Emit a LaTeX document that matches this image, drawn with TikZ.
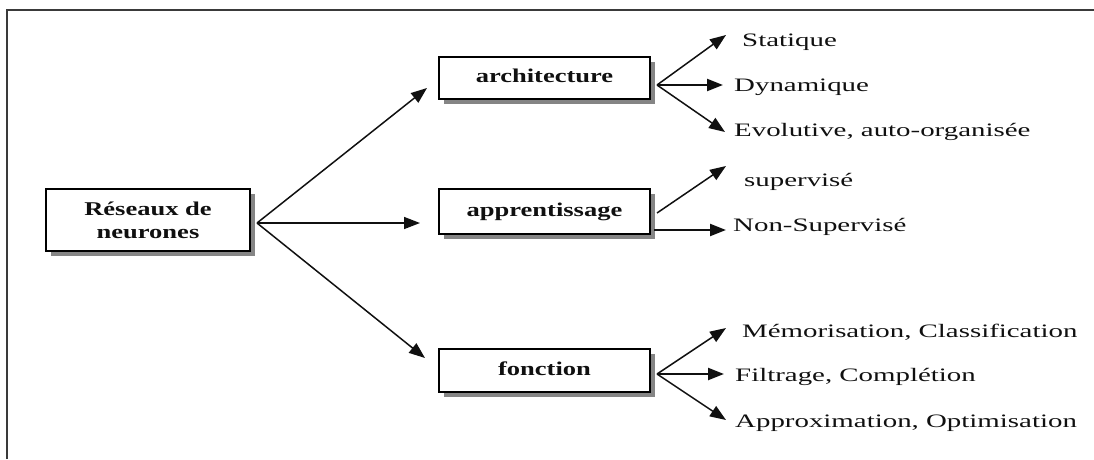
\documentclass[tikz,border=0pt]{standalone}
\usepackage{fontspec}
\setmainfont{Liberation Serif}
\newfontfamily\boxfont[FakeStretch=1.36]{Liberation Serif}
\newfontfamily\leaffont[FakeStretch=1.52]{Liberation Serif}
\usetikzlibrary{arrows.meta,shadows}
\definecolor{ink}{HTML}{101010}
\definecolor{shade}{HTML}{858585}
\definecolor{framec}{HTML}{3A3A3A}
\begin{document}
\begin{tikzpicture}[x=1pt,y=-1pt,
  box/.style={draw=black, line width=2.4pt, fill=white, minimum width=211pt,
    inner sep=0pt, text=ink, font=\boxfont\bfseries\fontsize{19.5}{23}\selectfont,
    drop shadow={shadow xshift=5pt, shadow yshift=-5pt, fill=shade, opacity=1}},
  leaf/.style={anchor=base west, inner sep=0pt, text=ink,
    font=\leaffont\fontsize{19}{22}\selectfont},
  conn/.style={draw=ink, line width=1.5pt, -{Triangle[length=16pt,width=12pt]}},
  thickconn/.style={conn, line width=2.3pt},
  frameline/.style={draw=framec, line width=2.2pt}
]
\useasboundingbox (0,0) rectangle (1094,459);
\draw[frameline] (7,459) -- (7,10) -- (1094,10);

% boxes
\node[box, minimum width=204pt, minimum height=62pt, align=center] (res) at (148,220) {Réseaux de\\neurones};
\node[box, minimum height=42pt, text height=13pt, text depth=4pt] (arch) at (544.5,78) {architecture};
\node[box, minimum height=45pt, text height=13pt, text depth=4pt] (app) at (544.5,211.5) {apprentissage};
\node[box, minimum height=43pt, text height=13pt, text depth=4pt] (fonc) at (544.5,370.5) {fonction};

% fan-out points and tips
\coordinate (r0) at (257,223);
\coordinate (tA) at (427,88);
\coordinate (tP) at (420,223);
\coordinate (tF) at (425,358);
\coordinate (a0) at (657,85);
\coordinate (p0) at (657,213);
\coordinate (p0b) at (654,230);
\coordinate (f0) at (657,374);

% leaves
\node[leaf] (stat) at (742,46) {Statique};
\node[leaf] (dyn) at (734,91.7) {Dynamique};
\node[leaf] (evo) at (734,136.7) {Evolutive, auto-organisée};
\node[leaf] (sup) at (744,186.7) {supervisé};
\node[leaf] (nsup) at (733,231.7) {Non-Supervisé};
\node[leaf] (mem) at (742,337) {Mémorisation, Classification};
\node[leaf] (fil) at (735,381.7) {Filtrage, Complétion};
\node[leaf] (appr) at (735,427) {Approximation, Optimisation};

\coordinate (a1) at (726,35);
\coordinate (a2) at (723,85);
\coordinate (a3) at (725,132);
\coordinate (p1) at (726,166);
\coordinate (p2) at (726,230);
\coordinate (f1) at (726,328);
\coordinate (f2) at (724,374);
\coordinate (f3) at (726,420);

% connectors
\draw[conn] (r0) -- (tA);
\draw[conn] (r0) -- (tP);
\draw[conn] (r0) -- (tF);
\draw[conn] (a0) -- (a1);
\draw[thickconn] (a0) -- (a2);
\draw[conn] (a0) -- (a3);
\draw[conn] (p0) -- (p1);
\draw[thickconn] (p0b) -- (p2);
\draw[conn] (f0) -- (f1);
\draw[thickconn] (f0) -- (f2);
\draw[conn] (f0) -- (f3);
\end{tikzpicture}
\end{document}
